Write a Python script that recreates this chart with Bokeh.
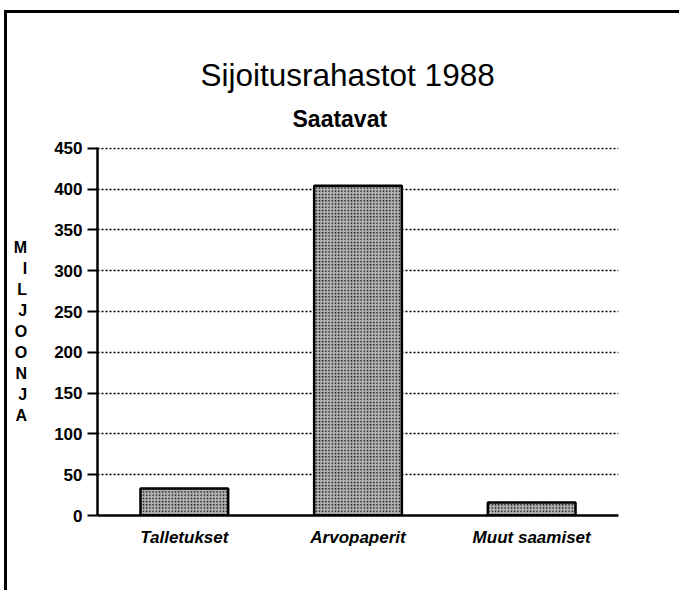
from bokeh.plotting import figure
from bokeh.models import FactorRange, Range1d, FixedTicker, Title
from bokeh.embed import file_html
from bokeh.resources import INLINE

categories = ["Talletukset", "Arvopaperit", "Muut saamiset"]
values = [33, 404, 16]
y_ticks = [0, 50, 100, 150, 200, 250, 300, 350, 400, 450]
title_text = "Sijoitusrahastot 1988"
subtitle_text = "Saatavat"
ylabel_text = "M\nI\nL\nJ\nO\nO\nN\nJ\nA"

W, H = 675, 580
p = figure(x_range=FactorRange(*categories), y_range=Range1d(0, 451),
           width=W, height=H, output_backend="svg", toolbar_location=None,
           min_border_left=90, min_border_right=64, min_border_top=134, min_border_bottom=78)
p.title = None
p.outline_line_color = None
p.background_fill_color = "white"
p.border_fill_color = "white"

p.vbar(x=categories, top=values, width=0.505, fill_color="#b4b4b4",
       hatch_pattern="dot", hatch_color="black", hatch_scale=3.2, hatch_weight=1.4,
       line_color="black", line_width=2.5)

p.xgrid.grid_line_color = None
p.ygrid.grid_line_color = "black"
p.ygrid.grid_line_dash = "2 2"
p.ygrid.grid_line_width = 1.5
p.ygrid.level = "underlay"

p.yaxis.ticker = FixedTicker(ticks=y_ticks)
p.yaxis.axis_line_width = 2.5
p.yaxis.major_tick_out = 10
p.yaxis.major_tick_in = 0
p.yaxis.major_tick_line_width = 2
p.yaxis.minor_tick_line_color = None
p.yaxis.major_label_text_font = "Liberation Sans"
p.yaxis.major_label_text_font_style = "bold"
p.yaxis.major_label_text_font_size = "17px"
p.yaxis.major_label_text_color = "black"
p.yaxis.major_label_standoff = 5
p.yaxis.axis_label = ylabel_text
p.yaxis.axis_label_orientation = "horizontal"
p.yaxis.axis_label_text_font = "Liberation Sans"
p.yaxis.axis_label_text_font_style = "bold"
p.yaxis.axis_label_text_font_size = "16px"
p.yaxis.axis_label_text_color = "black"
p.yaxis.axis_label_text_line_height = 1.24
p.yaxis.axis_label_standoff = 24

p.xaxis.axis_line_width = 2.5
p.xaxis.major_tick_line_color = None
p.xaxis.major_label_text_font = "Liberation Sans"
p.xaxis.major_label_text_font_style = "bold italic"
p.xaxis.major_label_text_font_size = "17px"
p.xaxis.major_label_text_color = "black"
p.xaxis.major_label_standoff = 6

p.add_layout(Title(text=subtitle_text, align="left", offset=195, text_font="Liberation Sans",
                   text_font_size="23px", text_font_style="bold", text_color="black",
                   standoff=32), "above")
p.add_layout(Title(text=title_text, align="left", offset=103, text_font="Liberation Sans",
                   text_font_size="31.5px", text_font_style="normal", text_color="black",
                   standoff=-10), "above")

p.margin = (10, 0, 0, 4)
p.styles = {"border-top": "3px solid black", "border-left": "3px solid black"}

open("out.html", "w").write(file_html(p, INLINE))
